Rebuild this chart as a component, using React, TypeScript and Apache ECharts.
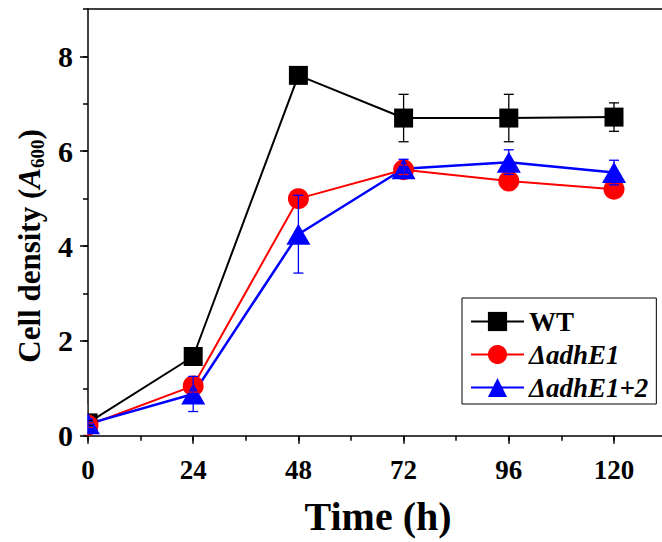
import React, { useEffect, useRef } from "react";
import * as echarts from "echarts";

// ---- data ----
const times = [0, 24, 48, 72, 96, 120];
const seriesNames = ["WT", "ΔadhE1", "ΔadhE1+2"];
const wt = [0.27, 1.67, 7.6, 6.7, 6.7, 6.72];
const wtErr = [0.05, 0.05, 0.05, 0.5, 0.5, 0.3];
const adhE1 = [0.22, 1.05, 5.0, 5.61, 5.37, 5.2];
const adhE1Err = [0.05, 0.13, 0.05, 0.1, 0.1, 0.08];
const adhE12 = [0.25, 0.88, 4.25, 5.63, 5.77, 5.55];
const adhE12Err = [0.1, 0.37, 0.82, 0.2, 0.26, 0.26];
const colors = ["#000000", "#ff0000", "#0000ff"];
const symbols = ["rect", "circle", "triangle"];

const FONT = '"Liberation Serif", "Times New Roman", serif';

function errSeries(name: string, vals: number[], errs: number[], color: string) {
  return {
    type: "custom",
    name: name + " err",
    xAxisIndex: 0,
    yAxisIndex: 0,
    z: 5,
    silent: true,
    data: times.map((t, i) => [t, vals[i], errs[i]]),
    renderItem: (_params: any, api: any) => {
      const x = api.value(0);
      const y = api.value(1);
      const e = api.value(2);
      const top = api.coord([x, y + e]);
      const bot = api.coord([x, y - e]);
      const hw = 5;
      const style = { stroke: color, lineWidth: 1.3 };
      return {
        type: "group",
        children: [
          { type: "line", shape: { x1: top[0], y1: top[1], x2: bot[0], y2: bot[1] }, style },
          { type: "line", shape: { x1: top[0] - hw, y1: top[1], x2: top[0] + hw, y2: top[1] }, style },
          { type: "line", shape: { x1: bot[0] - hw, y1: bot[1], x2: bot[0] + hw, y2: bot[1] }, style },
        ],
      };
    },
  };
}

function lineSeries(idx: number, vals: number[], size: any, width: number) {
  return {
    type: "line",
    name: seriesNames[idx],
    xAxisIndex: 0,
    yAxisIndex: 0,
    z: 3,
    data: times.map((t, i) => [t, vals[i]]),
    symbol: symbols[idx],
    symbolSize: size,
    lineStyle: { color: colors[idx], width },
    itemStyle: { color: colors[idx] },
  };
}

export default function App() {
  const ref = useRef<HTMLDivElement>(null);
  useEffect(() => {
    if (!ref.current) return;
    const chart = echarts.init(ref.current, null, { renderer: "svg" });
    const axisLineStyle = { color: "#000", width: 1.5 };
    const option: any = {
      animation: false,
      grid: { left: 88, top: 9, width: 578.6, height: 426.7, containLabel: false, outerBoundsMode: "none" },
      xAxis: [
        {
          type: "value",
          position: "bottom",
          min: 0,
          max: 132,
          interval: 24,
          axisLine: { show: true, onZero: false, lineStyle: axisLineStyle },
          axisTick: { show: true, length: 8, lineStyle: axisLineStyle },
          axisLabel: {
            showMaxLabel: false,
            fontFamily: FONT,
            fontWeight: "bold",
            fontSize: 27,
            color: "#000",
            margin: 21,
          },
          splitLine: { show: false },
        },
        {
          type: "value",
          position: "top",
          min: 0,
          max: 132,
          axisLine: { show: true, onZero: false, lineStyle: axisLineStyle },
          axisTick: { show: false },
          axisLabel: { show: false },
          splitLine: { show: false },
        },
        {
          type: "value",
          position: "bottom",
          min: 0,
          max: 132,
          interval: 12,
          axisLine: { show: false, onZero: false },
          axisTick: { show: true, length: 5, lineStyle: axisLineStyle },
          axisLabel: { show: false },
          splitLine: { show: false },
        },
      ],
      yAxis: [
        {
          type: "value",
          position: "left",
          min: 0,
          max: 9,
          interval: 2,
          axisLine: { show: true, onZero: false, lineStyle: axisLineStyle },
          axisTick: { show: true, length: 8, lineStyle: axisLineStyle },
          axisLabel: {
            showMaxLabel: false,
            fontFamily: FONT,
            fontWeight: "bold",
            fontSize: 30,
            color: "#000",
            margin: 15,
          },
          splitLine: { show: false },
        },
        {
          type: "value",
          position: "left",
          min: 0,
          max: 9,
          interval: 1,
          axisLine: { show: false, onZero: false },
          axisTick: { show: true, length: 5, lineStyle: axisLineStyle },
          axisLabel: { show: false },
          splitLine: { show: false },
        },
      ],
      legend: {
        data: seriesNames,
        orient: "vertical",
        left: 462,
        top: 298,
        padding: [10, 8, 3, 8],
        itemGap: 6,
        itemWidth: 53,
        itemHeight: 24,
        borderColor: "#000",
        borderWidth: 1,
        backgroundColor: "#fff",
        formatter: (name: string) => (name === "WT" ? `{b|${name}}` : `{i|${name}}`),
        textStyle: {
          fontFamily: FONT,
          fontWeight: "bold",
          fontSize: 27,
          color: "#000",
          rich: {
            b: { fontFamily: FONT, fontWeight: "bold", fontSize: 27, color: "#000" },
            i: { fontFamily: FONT, fontWeight: "bold", fontStyle: "italic", fontSize: 27, color: "#000" },
          },
        },
      },
      graphic: [
        {
          // the axis hides the left half of the markers at time 0
          type: "rect",
          z: 100,
          silent: true,
          shape: { x: 75, y: 404, width: 12.2, height: 30.8 },
          style: { fill: "#fff" },
        },
        {
          type: "text",
          x: 29,
          y: 246,
          rotation: Math.PI / 2,
          style: {
            text: "{b|Cell density (}{i|A}{s|600}{b|)}",
            align: "center",
            verticalAlign: "middle",
            rich: {
              b: { fontFamily: FONT, fontWeight: "bold", fontSize: 31, lineHeight: 36, fill: "#000" },
              i: { fontFamily: FONT, fontWeight: "bold", fontStyle: "italic", fontSize: 31, lineHeight: 36, fill: "#000" },
              s: { fontFamily: FONT, fontWeight: "bold", fontSize: 19, lineHeight: 19, verticalAlign: "bottom", fill: "#000" },
            },
          },
        },
        {
          type: "text",
          x: 378,
          y: 516,
          style: {
            text: "Time (h)",
            align: "center",
            verticalAlign: "middle",
            fontFamily: FONT,
            fontWeight: "bold",
            fontSize: 40,
            fill: "#000",
          },
        },
      ],
      series: [
        lineSeries(0, wt, 19, 2),
        lineSeries(1, adhE1, 21, 2),
        lineSeries(2, adhE12, [24, 21], 2.5),
        errSeries(seriesNames[0], wt, wtErr, colors[0]),
        errSeries(seriesNames[1], adhE1, adhE1Err, colors[1]),
        errSeries(seriesNames[2], adhE12, adhE12Err, colors[2]),
      ],
    };
    chart.setOption(option);
    return () => chart.dispose();
  }, []);
  return (
    <div
      ref={ref}
      style={{ position: "absolute", left: 0, top: 0, width: 662, height: 542, background: "#fff" }}
    />
  );
}
